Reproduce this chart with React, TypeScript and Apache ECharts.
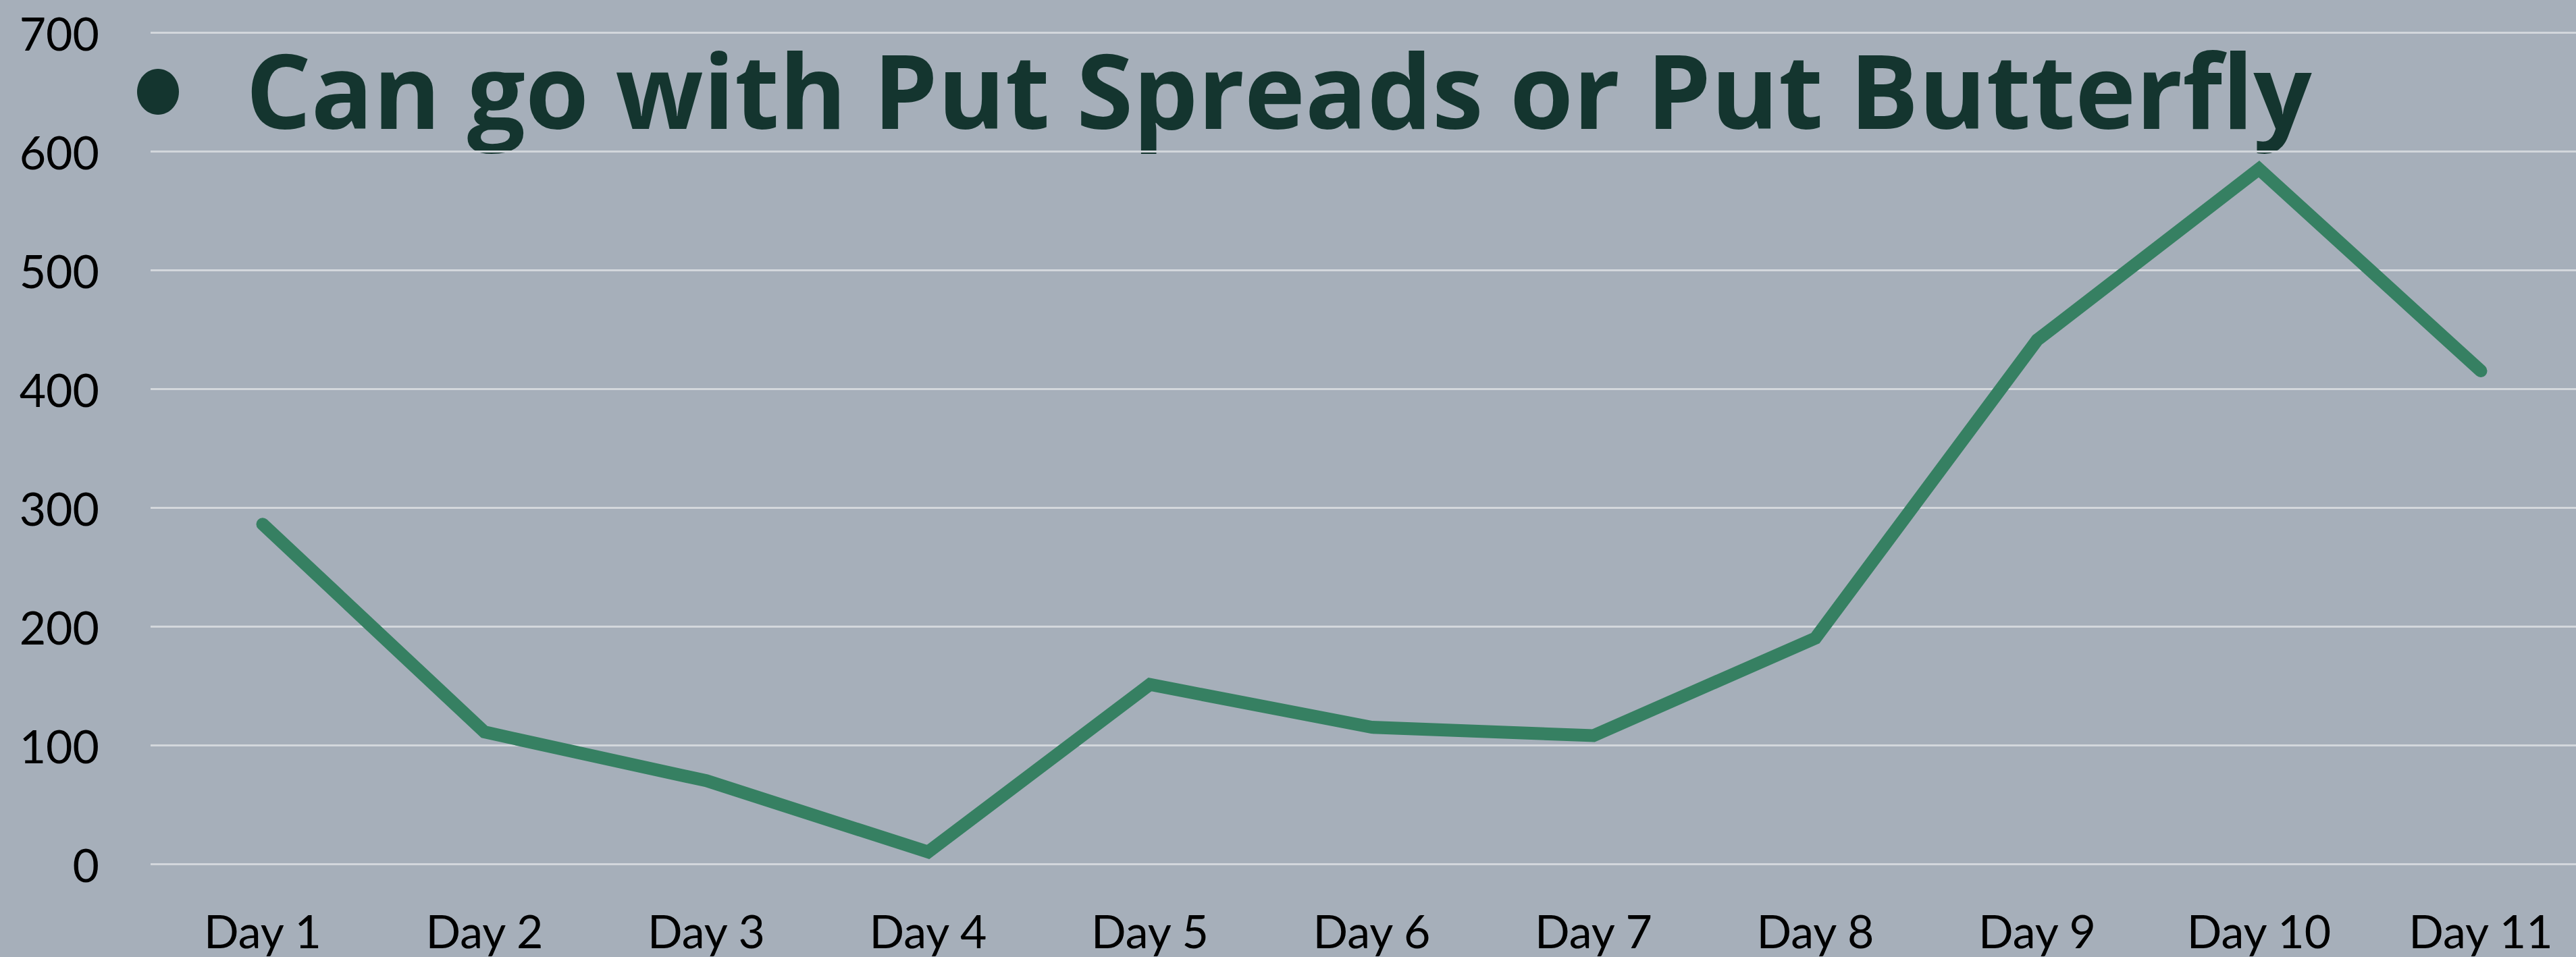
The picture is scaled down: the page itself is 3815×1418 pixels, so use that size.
import React, { useEffect, useRef } from "react";
import * as echarts from "echarts";

const categories = ["Day 1", "Day 2", "Day 3", "Day 4", "Day 5", "Day 6", "Day 7", "Day 8", "Day 9", "Day 10", "Day 11"];
const values = [286, 111, 70, 10, 151, 115, 108, 190, 441, 585, 415];
const titleText = "Can go with Put Spreads or Put Butterfly";

export default function App() {
  const ref = useRef<HTMLDivElement>(null);
  useEffect(() => {
    if (!ref.current) return;
    const chart = echarts.init(ref.current, undefined, { renderer: "svg" });
    chart.setOption({
      animation: false,
      backgroundColor: "#a6afba",
      grid: [
        { left: 223, top: 48, bottom: 138, right: 0, containLabel: false },
        { left: 389, top: 48, bottom: 138, right: 141, containLabel: false },
      ],
      xAxis: [
        { type: "category", gridIndex: 0, data: categories, show: false },
        {
          type: "category",
          gridIndex: 1,
          data: categories,
          boundaryGap: false,
          axisLine: { show: false },
          axisTick: { show: false },
          axisLabel: { color: "#000", fontFamily: "Lato", fontSize: 68, margin: 64 },
        },
      ],
      yAxis: [
        {
          type: "value",
          gridIndex: 0,
          min: 0,
          max: 700,
          interval: 100,
          axisLine: { show: false },
          axisTick: { show: false },
          axisLabel: { color: "#000", fontFamily: "Lato", fontSize: 68, margin: 76 },
          splitLine: { lineStyle: { color: "#d3d7dc", width: 3 } },
        },
        {
          type: "value",
          gridIndex: 1,
          min: 0,
          max: 700,
          interval: 100,
          show: false,
        },
      ],
      graphic: [
        { type: "ellipse", shape: { cx: 234, cy: 136, rx: 31, ry: 34 }, style: { fill: "#14352f" } },
        {
          type: "text",
          x: 364,
          y: 132,
          style: {
            text: titleText,
            fill: "#14352f",
            font: "bold 152px 'Open Sans'",
            textVerticalAlign: "middle",
            textAlign: "left",
          },
        },
      ],
      series: [
        {
          type: "line",
          xAxisIndex: 1,
          yAxisIndex: 1,
          data: values,
          symbol: "none",
          lineStyle: { color: "#368062", width: 19, cap: "round", join: "miter" },
        },
      ],
    });
    return () => chart.dispose();
  }, []);
  return <div ref={ref} style={{ position: "fixed", left: 0, top: 0, width: 3815, height: 1418 }} />;
}
